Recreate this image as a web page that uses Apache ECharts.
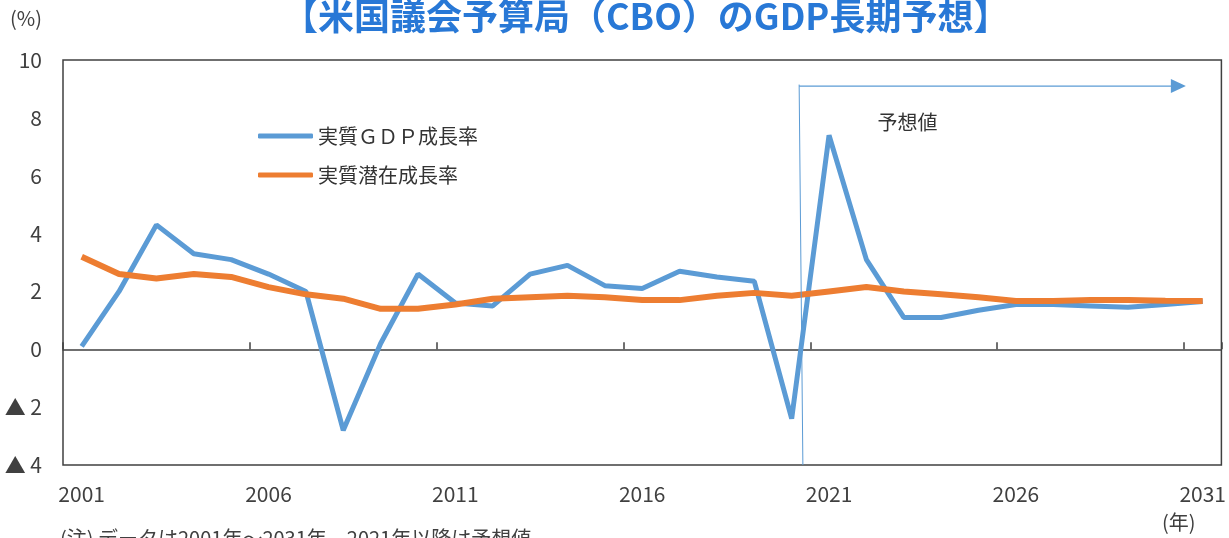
<!DOCTYPE html>
<html>
<head>
<meta charset="utf-8">
<script src="https://cdn.jsdelivr.net/npm/echarts@6/dist/echarts.min.js"></script>
<style>
html,body{margin:0;padding:0;background:#fff;}
#chart{width:1229px;height:538px;}
</style>
</head>
<body>
<div id="chart"></div>
<script>
const years = ['2001','2002','2003','2004','2005','2006','2007','2008','2009','2010','2011','2012','2013','2014','2015','2016','2017','2018','2019','2020','2021','2022','2023','2024','2025','2026','2027','2028','2029','2030','2031'];
const realGdp = [0.1,2.0,4.3,3.3,3.1,2.6,2.0,-2.8,0.2,2.6,1.6,1.5,2.6,2.9,2.2,2.1,2.7,2.5,2.35,-2.4,7.4,3.1,1.1,1.1,1.35,1.55,1.55,1.5,1.45,1.55,1.65];
const potential = [3.2,2.6,2.45,2.6,2.5,2.15,1.9,1.75,1.4,1.4,1.55,1.75,1.8,1.85,1.8,1.7,1.7,1.85,1.95,1.85,2.0,2.15,2.0,1.9,1.8,1.67,1.67,1.7,1.7,1.68,1.67];
const yTicks = [-4,-2,0,2,4,6,8,10];
const yTickLabels = ['▲ 4','▲ 2','0','2','4','6','8','10'];
const seriesNames = ['実質ＧＤＰ成長率','実質潜在成長率'];
const titleText = '【米国議会予算局（CBO）のGDP長期予想】';
const forecastLabel = '予想値';
const noteText = '(注) データは2001年～2031年、2021年以降は予想値';

const FONT = '"Noto Sans CJK JP", "Noto Sans", sans-serif';
const BLUE = '#5B9BD5', ORANGE = '#ED7D31';

const chart = echarts.init(document.getElementById('chart'), null, {renderer:'canvas'});
const option = {
  animation: false,
  backgroundColor: '#fff',
  title: {
    text: titleText, left: 282, top: -2, padding: 0,
    textStyle: {fontFamily: FONT, fontSize: 36, fontWeight: 'bold', color: '#2878D6'}
  },
  legend: {
    orient: 'vertical', left: 258, top: 126, padding: 0, itemWidth: 55, itemHeight: 5, itemGap: 19,
    icon: 'roundRect',
    textStyle: {fontFamily: FONT, fontSize: 20, color: '#333'},
    data: seriesNames
  },
  grid: {left: 63, right: 6, top: 60, bottom: 73, show: true, borderColor: '#404040', borderWidth: 1.5, containLabel: false},
  xAxis: [
    {type: 'category', data: years, position: 'bottom', boundaryGap: true,
     axisLine: {show: false, onZero: false}, axisTick: {show: false},
     axisLabel: {interval: 4, margin: 19, fontFamily: FONT, fontSize: 21, color: '#404040'}},
    {type: 'category', data: years, position: 'top', boundaryGap: true,
     axisLine: {show: true, onZero: true, lineStyle: {color: '#404040', width: 1.5}},
     axisTick: {show: true, interval: 4, inside: false, length: 7, lineStyle: {color: '#404040', width: 1.5}},
     axisLabel: {show: false}}
  ],
  yAxis: {
    type: 'value', min: -4, max: 10, interval: 2,
    axisLine: {show: false}, axisTick: {show: false}, splitLine: {show: false},
    axisLabel: {margin: 21, fontFamily: FONT, fontSize: 21, color: '#404040',
      formatter: v => { const i = yTicks.indexOf(v); return i >= 0 ? yTickLabels[i] : ''; }}
  },
  series: [
    {name: seriesNames[0], type: 'line', data: realGdp, symbol: 'none', xAxisIndex: 0,
     lineStyle: {color: BLUE, width: 5}, itemStyle: {color: BLUE}, z: 3},
    {name: seriesNames[1], type: 'line', data: potential, symbol: 'none', xAxisIndex: 0,
     lineStyle: {color: ORANGE, width: 6}, itemStyle: {color: ORANGE}, z: 4}
  ]
};
chart.setOption(option);

// annotation positions in data space (category index, value)
function px(ix, v) {
  const p0 = chart.convertToPixel({xAxisIndex: 0, yAxisIndex: 0}, [0, v]);
  const p1 = chart.convertToPixel({xAxisIndex: 0, yAxisIndex: 0}, [1, v]);
  return [p0[0] + (p1[0] - p0[0]) * ix, p0[1]];
}
const vTop = px(19.2, 9.15), vBot = px(19.3, -4);
const aStart = px(19.2, 9.1), aEnd = px(29.55, 9.1);
const lbl = px(22.1, 7.85);
chart.setOption({
  graphic: [
    {type: 'line', shape: {x1: vTop[0], y1: vTop[1], x2: vBot[0], y2: vBot[1]}, style: {stroke: BLUE, lineWidth: 1}, z: 10},
    {type: 'line', shape: {x1: aStart[0], y1: aStart[1], x2: aEnd[0] - 14, y2: aEnd[1]}, style: {stroke: BLUE, lineWidth: 1.2}, z: 10},
    {type: 'polygon', shape: {points: [[aEnd[0] - 15, aEnd[1] - 7], [aEnd[0], aEnd[1]], [aEnd[0] - 15, aEnd[1] + 7]]}, style: {fill: BLUE}, z: 10},
    {type: 'text', x: lbl[0], y: lbl[1], style: {text: forecastLabel, fontFamily: FONT, fontSize: 20, fill: '#333', align: 'center', verticalAlign: 'middle'}, z: 10},
    {type: 'text', left: 10, top: 8, style: {text: '(%)', fontFamily: FONT, fontSize: 20, fill: '#404040'}},
    {type: 'text', left: 1162, top: 512, style: {text: '(年)', fontFamily: FONT, fontSize: 20, fill: '#404040'}},
    {type: 'text', left: 60, top: 528, style: {text: noteText, fontFamily: FONT, fontSize: 20, fill: '#404040'}}
  ]
});
</script>
</body>
</html>
